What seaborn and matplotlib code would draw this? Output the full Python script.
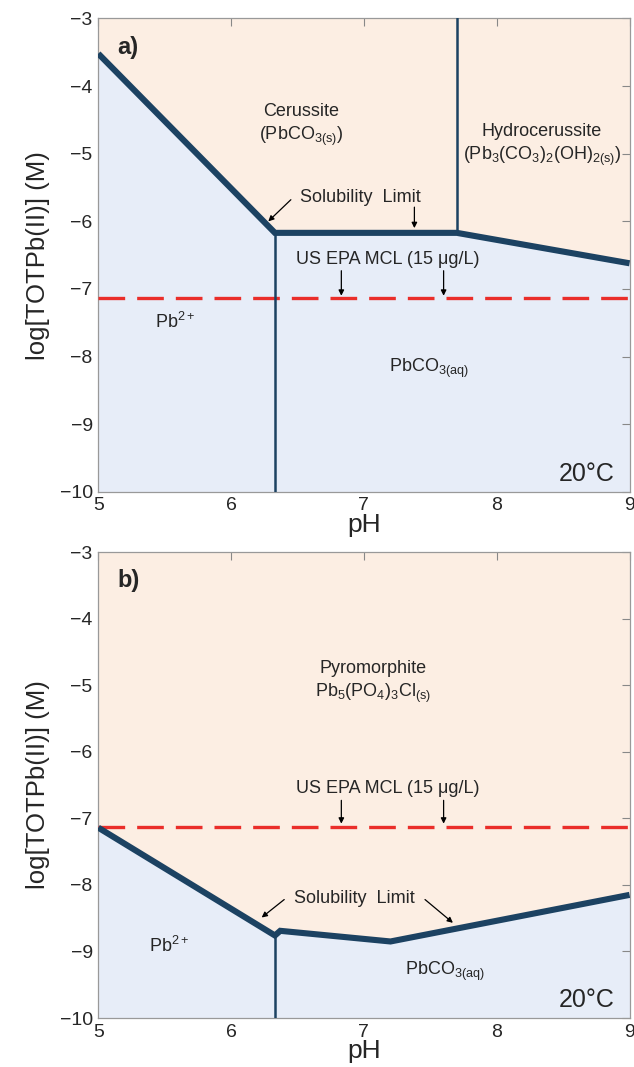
import numpy as np
import pandas as pd
import matplotlib
matplotlib.use("Agg")
import matplotlib.pyplot as plt
import seaborn as sns

sns.set_style("white")
plt.rcParams['font.family'] = ['Liberation Sans', 'DejaVu Sans']
plt.rcParams['mathtext.fontset'] = 'custom'
plt.rcParams['mathtext.rm'] = 'Liberation Sans'
plt.rcParams['mathtext.it'] = 'Liberation Sans'
plt.rcParams['mathtext.bf'] = 'Liberation Sans:bold'

# ---- data ----
ph_a = [5.0, 6.33, 7.70, 9.0]
sol_a = [-3.52, -6.17, -6.17, -6.62]
ph_b = [5.0, 6.33, 6.37, 7.20, 9.0]
sol_b = [-7.14, -8.76, -8.69, -8.85, -8.15]
boundary_a_x = [6.33, 7.70]
mcl = -7.13
xticks = [5, 6, 7, 8, 9]
yticks = [-3, -4, -5, -6, -7, -8, -9, -10]

PEACH = "#FCEEE3"
BLUE = "#E7EDF8"
NAVY = "#1C4262"
RED = "#EA2E2A"
FS = 13

fig = plt.figure(figsize=(6.34, 10.67), dpi=100)
ax1 = fig.add_axes([0.155, 0.539, 0.838, 0.4437])
ax2 = fig.add_axes([0.155, 0.0459, 0.838, 0.4367])


def style(ax, tag):
    ax.set_xlim(5, 9)
    ax.set_ylim(-10, -3)
    ax.set_xticks(xticks)
    ax.set_yticks(yticks)
    ax.set_yticklabels([f"\u2212{abs(v)}" for v in yticks])
    ax.tick_params(direction="in", length=6, width=0.8, color="#888888",
                   top=True, right=True, labelsize=14, pad=4)
    for s in ax.spines.values():
        s.set_color("#999999")
        s.set_linewidth(0.9)
    ax.set_xlabel("pH", fontsize=19, labelpad=-1)
    ax.set_ylabel("log[TOTPb(II)] (M)", fontsize=18.5, labelpad=7)
    ax.text(0.036, 0.938, tag, transform=ax.transAxes,
            fontsize=17, fontweight="bold", ha="left", va="center")
    ax.text(8.89, -9.73, "20°C", fontsize=18, ha="right", va="center")


def draw(ax, xs, ys):
    xs = np.array(xs)
    ys = np.array(ys)
    ax.fill_between(xs, ys, -3, color=PEACH, lw=0, zorder=0)
    ax.fill_between(xs, -10, ys, color=BLUE, lw=0, zorder=0)
    df = pd.DataFrame({"pH": xs, "logPb": ys})
    sns.lineplot(data=df, x="pH", y="logPb", sort=False, ax=ax, color=NAVY,
                 lw=4.4, zorder=4, solid_joinstyle="miter", solid_capstyle="butt")
    ax.axhline(mcl, color=RED, lw=2.4, dashes=(8, 3.6), zorder=3)


arrow = dict(arrowstyle="-|>", color="black", lw=0.9, mutation_scale=8,
             shrinkA=0, shrinkB=0)

# ---- panel a ----
draw(ax1, ph_a, sol_a)
ax1.plot([boundary_a_x[0]] * 2, [-10, sol_a[1]], color=NAVY, lw=1.8, zorder=3)
ax1.plot([boundary_a_x[1]] * 2, [sol_a[2], -3], color=NAVY, lw=1.8, zorder=3)
ax1.text(6.53, -4.58, "Cerussite\n(PbCO$_{3(s)}$)", fontsize=FS, ha="center",
         va="center", linespacing=1.35)
ax1.text(8.34, -4.88, "Hydrocerussite\n(Pb$_3$(CO$_3$)$_2$(OH)$_{2(s)}$)", fontsize=FS,
         ha="center", va="center", linespacing=1.35)
ax1.text(6.52, -5.65, "Solubility  Limit", fontsize=FS, ha="left", va="center")
ax1.annotate("", xy=(6.28, -6.0), xytext=(6.45, -5.68), arrowprops=arrow)
ax1.annotate("", xy=(7.38, -6.1), xytext=(7.38, -5.79), arrowprops=arrow)
ax1.text(7.18, -6.57, "US EPA MCL (15 μg/L)", fontsize=FS, ha="center", va="center")
ax1.annotate("", xy=(6.83, -7.1), xytext=(6.83, -6.73), arrowprops=arrow)
ax1.annotate("", xy=(7.6, -7.1), xytext=(7.6, -6.73), arrowprops=arrow)
ax1.text(5.58, -7.48, "Pb$^{2+}$", fontsize=FS, ha="center", va="center")
ax1.text(7.49, -8.17, "PbCO$_{3(aq)}$", fontsize=FS, ha="center", va="center")
style(ax1, "a)")

# ---- panel b ----
draw(ax2, ph_b, sol_b)
ax2.plot([ph_b[1]] * 2, [-10, sol_b[1]], color=NAVY, lw=1.8, zorder=3)
ax2.text(7.07, -4.96, "Pyromorphite\nPb$_5$(PO$_4$)$_3$Cl$_{(s)}$", fontsize=FS,
         ha="center", va="center", linespacing=1.35)
ax2.text(7.18, -6.55, "US EPA MCL (15 μg/L)", fontsize=FS, ha="center", va="center")
ax2.annotate("", xy=(6.83, -7.08), xytext=(6.83, -6.73), arrowprops=arrow)
ax2.annotate("", xy=(7.6, -7.08), xytext=(7.6, -6.73), arrowprops=arrow)
ax2.text(6.47, -8.21, "Solubility  Limit", fontsize=FS, ha="left", va="center")
ax2.annotate("", xy=(6.23, -8.49), xytext=(6.4, -8.22), arrowprops=arrow)
ax2.annotate("", xy=(7.67, -8.57), xytext=(7.46, -8.22), arrowprops=arrow)
ax2.text(5.53, -8.92, "Pb$^{2+}$", fontsize=FS, ha="center", va="center")
ax2.text(7.61, -9.3, "PbCO$_{3(aq)}$", fontsize=FS, ha="center", va="center")
style(ax2, "b)")

fig.savefig("out.png", dpi=100)
